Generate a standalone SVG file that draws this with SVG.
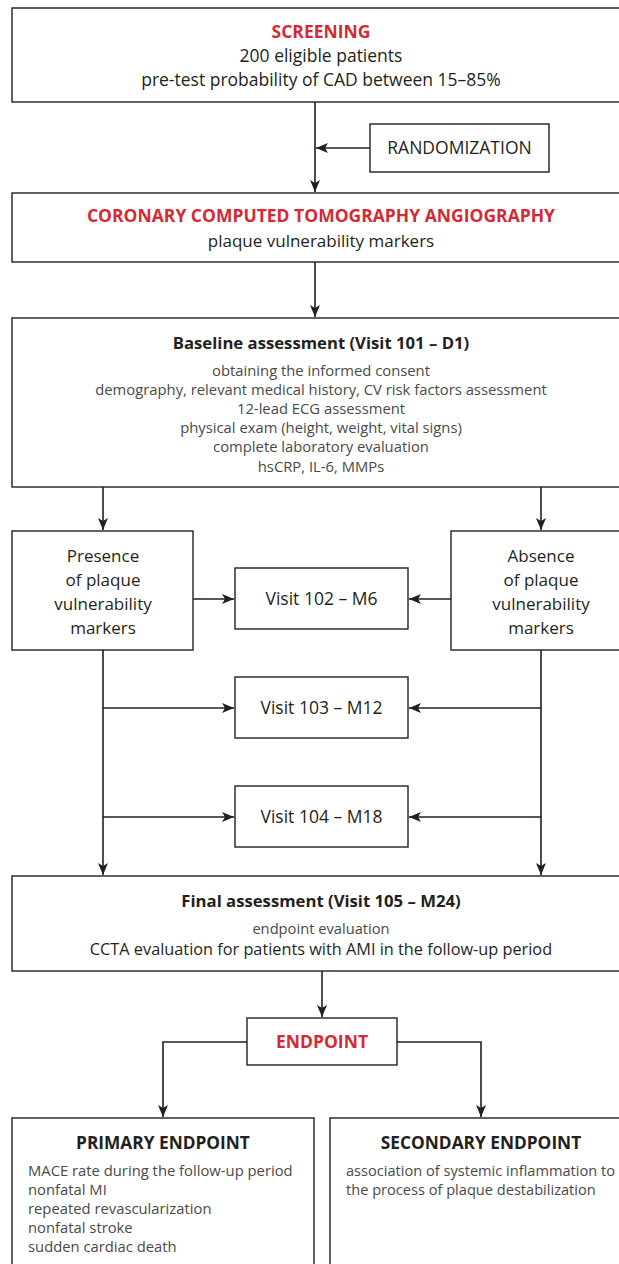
<svg xmlns="http://www.w3.org/2000/svg" width="619" height="1264" viewBox="0 0 619 1264">
<defs>
<marker id="ah" viewBox="0 0 12 10" refX="12" refY="5" markerWidth="12" markerHeight="10" markerUnits="userSpaceOnUse" orient="auto">
<path d="M0,0 L12,5 L0,10 L3,5 Z" fill="#231f20"/>
</marker>
<style>
.box{fill:#fff;stroke:#231f20;stroke-width:1.4}
.arr{fill:none;stroke:#231f20;stroke-width:1.6;marker-end:url(#ah)}
text{font-family:"Open Sans","Liberation Sans",Arial,sans-serif;fill:#231f20}
.c{text-anchor:middle}
.red{fill:#d42a34;font-weight:bold;font-size:17.5px}
.t{font-size:16.3px}
.b{font-size:14.8px;fill:#4a4a4a}
.h{font-size:16.7px;font-weight:bold}
.h2{font-size:17.3px;font-weight:bold}
.m{font-size:17.5px}
.s{font-size:17px}
</style>
</defs>
<rect width="619" height="1264" fill="#fff"/>

<g id="connectors">
<line class="arr" x1="315" y1="102" x2="315" y2="192"/>
<line class="arr" x1="370" y1="148" x2="316" y2="148"/>
<line class="arr" x1="315" y1="262" x2="315" y2="317"/>
<line class="arr" x1="103" y1="487" x2="103" y2="530"/>
<line class="arr" x1="541" y1="487" x2="541" y2="530"/>
<line class="arr" x1="193" y1="599" x2="234" y2="599"/>
<line class="arr" x1="451" y1="599" x2="409" y2="599"/>
<line class="arr" x1="103" y1="650" x2="103" y2="875"/>
<line class="arr" x1="541" y1="650" x2="541" y2="875"/>
<line class="arr" x1="103" y1="708" x2="234" y2="708"/>
<line class="arr" x1="541" y1="708" x2="409" y2="708"/>
<line class="arr" x1="103" y1="817" x2="234" y2="817"/>
<line class="arr" x1="541" y1="817" x2="409" y2="817"/>
<line class="arr" x1="322" y1="971" x2="322" y2="1017"/>
<polyline class="arr" points="247,1042 163,1042 163,1117"/>
<polyline class="arr" points="397,1042 481,1042 481,1117"/>
</g>

<g id="screening">
<rect class="box" x="12" y="8" width="620" height="94"/>
<text class="c red" x="321" y="38">SCREENING</text>
<text class="c m" x="321" y="62">200 eligible patients</text>
<text class="c m" x="321" y="86">pre-test probability of CAD between 15–85%</text>
</g>

<g id="randomization">
<rect class="box" x="370" y="124" width="179" height="48"/>
<text class="c m" x="459.5" y="154">RANDOMIZATION</text>
</g>

<g id="ccta">
<rect class="box" x="12" y="193" width="620" height="69"/>
<text class="c red" x="321" y="222">CORONARY COMPUTED TOMOGRAPHY ANGIOGRAPHY</text>
<text class="c s" x="321" y="247">plaque vulnerability markers</text>
</g>

<g id="baseline">
<rect class="box" x="12" y="318" width="620" height="169"/>
<text class="c h" x="321" y="349">Baseline assessment (Visit 101 – D1)</text>
<text class="c b" x="321" y="376">obtaining the informed consent</text>
<text class="c b" x="321" y="395">demography, relevant medical history, CV risk factors assessment</text>
<text class="c b" x="321" y="414">12-lead ECG assessment</text>
<text class="c b" x="321" y="433">physical exam (height, weight, vital signs)</text>
<text class="c b" x="321" y="452">complete laboratory evaluation</text>
<text class="c b" x="321" y="472">hsCRP, IL-6, MMPs</text>
</g>

<g id="presence">
<rect class="box" x="12" y="531" width="181" height="119"/>
<text class="c s" x="103" y="562">Presence</text>
<text class="c s" x="103" y="586">of plaque</text>
<text class="c s" x="103" y="610">vulnerability</text>
<text class="c s" x="103" y="634">markers</text>
</g>

<g id="absence">
<rect class="box" x="451" y="531" width="181" height="119"/>
<text class="c s" x="541" y="562">Absence</text>
<text class="c s" x="541" y="586">of plaque</text>
<text class="c s" x="541" y="610">vulnerability</text>
<text class="c s" x="541" y="634">markers</text>
</g>

<g id="visit102">
<rect class="box" x="235" y="568" width="173" height="61"/>
<text class="c m" x="321.5" y="605">Visit 102 – M6</text>
</g>

<g id="visit103">
<rect class="box" x="235" y="677" width="173" height="61"/>
<text class="c m" x="321.5" y="714">Visit 103 – M12</text>
</g>

<g id="visit104">
<rect class="box" x="235" y="786" width="173" height="61"/>
<text class="c m" x="321.5" y="823">Visit 104 – M18</text>
</g>

<g id="final">
<rect class="box" x="12" y="876" width="620" height="95"/>
<text class="c h" x="321" y="907">Final assessment (Visit 105 – M24)</text>
<text class="c b" x="321" y="934" style="font-size:14.7px">endpoint evaluation</text>
<text class="c t" x="321" y="955">CCTA evaluation for patients with AMI in the follow-up period</text>
</g>

<g id="endpoint">
<rect class="box" x="247" y="1018" width="150" height="47"/>
<text class="c red" x="322" y="1048">ENDPOINT</text>
</g>

<g id="primary">
<rect class="box" x="12" y="1118" width="302" height="160"/>
<text class="c h2" x="163" y="1149">PRIMARY ENDPOINT</text>
<text class="b" x="28" y="1176">MACE rate during the follow-up period</text>
<text class="b" x="28" y="1195">nonfatal MI</text>
<text class="b" x="28" y="1214">repeated revascularization</text>
<text class="b" x="28" y="1233">nonfatal stroke</text>
<text class="b" x="28" y="1252">sudden cardiac death</text>
</g>

<g id="secondary">
<rect class="box" x="330" y="1118" width="302" height="160"/>
<text class="c h2" x="481" y="1149">SECONDARY ENDPOINT</text>
<text class="b" x="346" y="1176" style="font-size:14.6px">association of systemic inflammation to</text>
<text class="b" x="346" y="1195" style="font-size:14.6px">the process of plaque destabilization</text>
</g>
</svg>
